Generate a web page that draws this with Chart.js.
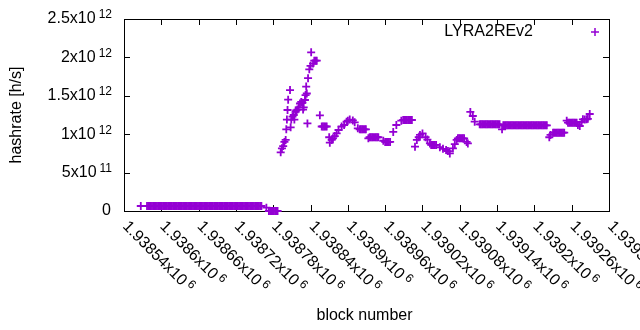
<!DOCTYPE html>
<html>
<head>
<meta charset="utf-8">
<script src="https://cdn.jsdelivr.net/npm/chart.js@4.4.1/dist/chart.umd.min.js"></script>
<style>
  html, body { margin: 0; padding: 0; background: #fff; }
  canvas { display: block; }
</style>
</head>
<body>
<canvas id="chart" width="640" height="330"></canvas>
<script>
// block numbers are stored as offsets from BASE_BLOCK, hashrate in units of 10^12 h/s
const BASE_BLOCK = 1938540;
const seriesName = 'LYRA2REv2';

const blockOffsets = [
  // low flat stretch
  27,
  37, 39, 41, 43, 45, 47, 49, 51, 53, 55,
  57, 59, 61, 63, 65, 67, 69, 71, 73, 75,
  77, 79, 81, 83, 85, 87, 89, 91, 93, 95,
  97, 99, 101, 103, 105, 107, 109, 111, 113, 115,
  117, 119, 121, 123, 125, 127, 129, 131, 133, 135,
  137, 139, 141, 143, 145, 147, 149, 151, 153, 155,
  157, 159, 161, 163, 165, 167, 169, 171, 173, 175,
  177, 179, 181, 183, 185, 187, 189, 191, 193, 195,
  197, 199, 201, 203, 205, 207, 209, 211, 213, 215,
  217, 219, 221,
  // zero stretch
  229, 233, 235, 237, 239, 241, 243, 245, 247,
  // rise
  252, 254, 256, 258, 260, 261, 262, 263, 264, 267,
  268, 269, 271, 273, 274, 276, 277, 279, 281, 283,
  285, 287, 288, 289, 291, 292, 293, 294, 295, 296,
  298, 300, 301, 304, 306, 308, 310,
  // first wave
  315, 318, 320, 322, 324, 326, 330, 331, 334, 336,
  339, 342, 345, 350, 354, 358, 360, 363, 368, 371,
  376, 379, 381, 383, 385, 387, 389,
  // second wave
  393, 395, 397, 399, 401, 403, 405, 407, 409, 417,
  420, 422, 424, 426, 428, 433, 438, 446, 449, 451,
  453, 455, 457, 459, 461, 463,
  // dip
  468, 471, 474, 476, 480, 485, 488, 492, 494, 496,
  498, 500, 502, 508, 513, 518, 521, 524, 529, 532,
  535, 537, 539, 541, 543, 545, 547, 551, 553,
  // plateau
  557, 561, 564, 572, 574, 576, 578, 580, 582, 584,
  586, 588, 590, 592, 594, 596, 598, 600, 602, 604,
  608,
  610, 612, 614, 616, 618, 620, 622, 624, 626, 628,
  630, 632, 634, 636, 638, 640, 642, 644, 646, 648,
  650, 652, 654, 656, 658, 660, 662, 664, 666, 668,
  670, 672, 674, 676, 678, 680,
  // tail
  684, 686, 690, 692, 694, 696, 698, 700, 702, 704,
  706, 708, 712, 714, 716, 718, 720, 722, 724, 726,
  728, 730, 733, 736, 738, 741, 744, 746, 749
];

const hashrateTH = [
  // low flat stretch
  0.065,
  0.065, 0.065, 0.065, 0.065, 0.065, 0.065, 0.065, 0.065, 0.065, 0.065,
  0.065, 0.065, 0.065, 0.065, 0.065, 0.065, 0.065, 0.065, 0.065, 0.065,
  0.065, 0.065, 0.065, 0.065, 0.065, 0.065, 0.065, 0.065, 0.065, 0.065,
  0.065, 0.065, 0.065, 0.065, 0.065, 0.065, 0.065, 0.065, 0.065, 0.065,
  0.065, 0.065, 0.065, 0.065, 0.065, 0.065, 0.065, 0.065, 0.065, 0.065,
  0.065, 0.065, 0.065, 0.065, 0.065, 0.065, 0.065, 0.065, 0.065, 0.065,
  0.065, 0.065, 0.065, 0.065, 0.065, 0.065, 0.065, 0.065, 0.065, 0.065,
  0.065, 0.065, 0.065, 0.065, 0.065, 0.065, 0.065, 0.065, 0.065, 0.065,
  0.065, 0.065, 0.065, 0.065, 0.065, 0.065, 0.065, 0.065, 0.065, 0.065,
  0.065, 0.065, 0.065,
  // zero stretch
  0.043, 0, 0, 0, 0, 0, 0, 0, 0,
  // rise
  0.764, 0.816, 0.846, 0.90, 0.925, 1.064, 1.19, 1.315, 1.45, 1.575,
  1.09, 1.19, 1.23, 1.25, 1.19, 1.29, 1.31, 1.32, 1.35, 1.40,
  1.42, 1.41, 1.32, 1.35, 1.445, 1.51, 1.62, 1.53, 1.14, 1.73,
  1.845, 1.89, 2.066, 1.92, 1.957, 1.957, 1.957,
  // first wave
  1.246, 1.10, 1.10, 1.10, 1.10, 1.10, 0.96, 0.89, 0.925, 0.946,
  0.976, 1.01, 1.055, 1.10, 1.12, 1.163, 1.176, 1.19, 1.18, 1.155,
  1.077, 1.064, 1.064, 1.064, 1.064, 1.064, 1.064,
  // second wave
  0.946, 0.96, 0.96, 0.96, 0.96, 0.96, 0.96, 0.96, 0.96, 0.915,
  0.90, 0.90, 0.90, 0.90, 0.90, 1.03, 1.12, 1.176, 1.185, 1.185,
  1.185, 1.185, 1.185, 1.185, 1.185, 1.185,
  // dip
  0.837, 0.925, 0.96, 0.99, 1.01, 0.96, 0.93, 0.88, 0.86, 0.86,
  0.86, 0.86, 0.86, 0.83, 0.81, 0.794, 0.78, 0.75, 0.816, 0.87,
  0.925, 0.946, 0.946, 0.946, 0.946, 0.946, 0.946, 0.90, 0.88,
  // plateau
  1.29, 1.237, 1.163, 1.128, 1.128, 1.128, 1.128, 1.128, 1.128, 1.128,
  1.128, 1.128, 1.128, 1.128, 1.128, 1.128, 1.128, 1.128, 1.128, 1.128,
  1.064,
  1.116, 1.116, 1.116, 1.116, 1.116, 1.116, 1.116, 1.116, 1.116, 1.116,
  1.116, 1.116, 1.116, 1.116, 1.116, 1.116, 1.116, 1.116, 1.116, 1.116,
  1.116, 1.116, 1.116, 1.116, 1.116, 1.116, 1.116, 1.116, 1.116, 1.116,
  1.116, 1.116, 1.116, 1.116, 1.116, 1.116,
  // tail
  0.96, 0.99, 1.02, 1.02, 1.02, 1.02, 1.02, 1.02, 1.02, 1.02,
  1.02, 1.02, 1.176, 1.15, 1.15, 1.15, 1.15, 1.15, 1.15, 1.15,
  1.15, 1.12, 1.107, 1.16, 1.194, 1.19, 1.194, 1.2, 1.263
];

// axis ticks (gnuplot style "mantissa x10^exp")
const xTicks = [1938540, 1938600, 1938660, 1938720, 1938780, 1938840, 1938900,
                1938960, 1939020, 1939080, 1939140, 1939200, 1939260, 1939320];
const xTickMantissa = ['1.93854', '1.9386', '1.93866', '1.93872', '1.93878', '1.93884', '1.9389',
                       '1.93896', '1.93902', '1.93908', '1.93914', '1.9392', '1.93926', '1.93932'];
const xTickExp = '6';
const yTicks = [0, 5e11, 1e12, 1.5e12, 2e12, 2.5e12];
const yTickMantissa = ['0', '5', '1', '1.5', '2', '2.5'];
const yTickExp = ['', '11', '12', '12', '12', '12'];

const COLOR = '#9400d3';
const FONT = '"Liberation Sans", Arial, sans-serif';
const MAIN_FONT = '16px ' + FONT;
const SUP_FONT = '12px ' + FONT;

const points = blockOffsets.map((off, i) => ({ x: BASE_BLOCK + off, y: hashrateTH[i] * 1e12 }));

// cadre, graduations et textes dessinés à la main (style gnuplot)
const gnuplotLook = {
  id: 'gnuplotLook',
  beforeDatasetsDraw(chart) {
    const { ctx, chartArea: a } = chart;
    const xs = chart.scales.x, ys = chart.scales.y;
    ctx.save();
    ctx.strokeStyle = '#000';
    ctx.lineWidth = 1;
    ctx.strokeRect(a.left + 0.5, a.top + 0.5, a.right - a.left, a.bottom - a.top);

    ctx.beginPath();
    xTicks.forEach(v => {
      const px = Math.round(xs.getPixelForValue(v)) + 0.5;
      ctx.moveTo(px, a.bottom); ctx.lineTo(px, a.bottom - 6);
      ctx.moveTo(px, a.top); ctx.lineTo(px, a.top + 6);
    });
    yTicks.forEach(v => {
      const py = Math.round(ys.getPixelForValue(v)) + 0.5;
      ctx.moveTo(a.left, py); ctx.lineTo(a.left + 6, py);
      ctx.moveTo(a.right, py); ctx.lineTo(a.right - 6, py);
    });
    ctx.stroke();

    ctx.fillStyle = '#000';
    ctx.textBaseline = 'middle';

    // y tick labels
    yTicks.forEach((v, i) => {
      const py = ys.getPixelForValue(v);
      let right = 112;
      let txt = yTickMantissa[i];
      if (yTickExp[i]) {
        ctx.font = SUP_FONT;
        ctx.textAlign = 'right';
        ctx.fillText(yTickExp[i], right, py - 4);
        right -= ctx.measureText(yTickExp[i]).width + 3;
        txt += 'x10';
      } else {
        right = 111;
      }
      ctx.font = MAIN_FONT;
      ctx.textAlign = 'right';
      ctx.fillText(txt, right, py);
    });

    // x tick labels, rotated 45 degrees clockwise
    xTicks.forEach((v, i) => {
      const px = xs.getPixelForValue(v);
      ctx.save();
      ctx.translate(px + 1, a.bottom + 13);
      ctx.rotate(Math.PI / 4);
      ctx.textAlign = 'left';
      ctx.font = MAIN_FONT;
      const txt = xTickMantissa[i] + 'x10';
      ctx.fillText(txt, 0, 0);
      const w = ctx.measureText(txt).width;
      ctx.font = SUP_FONT;
      ctx.fillText(xTickExp, w + 3, -4);
      ctx.restore();
    });

    // axis titles
    ctx.font = MAIN_FONT;
    ctx.textAlign = 'center';
    ctx.fillText('block number', (a.left + a.right) / 2 - 2, 316);
    ctx.save();
    ctx.translate(17, (a.top + a.bottom) / 2);
    ctx.rotate(-Math.PI / 2);
    ctx.fillText('hashrate [h/s]', 0, 0);
    ctx.restore();

    // legend
    ctx.textAlign = 'right';
    ctx.fillText(seriesName, 533, 32);
    ctx.strokeStyle = COLOR;
    ctx.lineWidth = 1.5;
    ctx.beginPath();
    ctx.moveTo(591, 32); ctx.lineTo(599, 32);
    ctx.moveTo(595, 28); ctx.lineTo(595, 36);
    ctx.stroke();
    ctx.restore();
  }
};

new Chart(document.getElementById('chart'), {
  type: 'scatter',
  data: {
    datasets: [{
      label: seriesName,
      data: points,
      pointStyle: 'cross',
      pointRadius: 4,
      borderWidth: 1.8,
      borderColor: COLOR,
      backgroundColor: COLOR,
      clip: false
    }]
  },
  options: {
    responsive: false,
    animation: false,
    devicePixelRatio: 1,
    layout: { padding: { left: 124, top: 19, right: 31, bottom: 119 } },
    scales: {
      x: { type: 'linear', min: 1938540, max: 1939320, display: false },
      y: { min: 0, max: 2.5e12, display: false }
    },
    plugins: {
      legend: { display: false },
      tooltip: { enabled: false }
    }
  },
  plugins: [gnuplotLook]
});
</script>
</body>
</html>
